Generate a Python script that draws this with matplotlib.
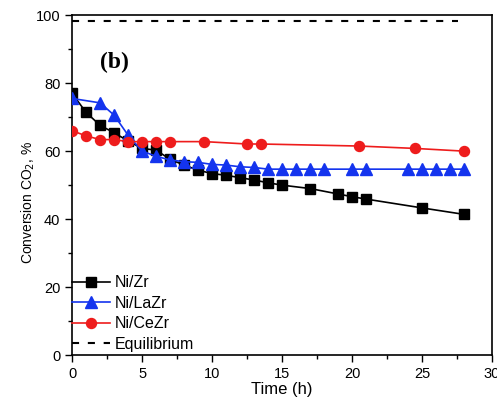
import matplotlib.pyplot as plt
from matplotlib.ticker import MultipleLocator

plt.rcParams['font.family'] = ['Liberation Sans', 'DejaVu Sans']

# ---- data ----
t_zr = [0, 1, 2, 3, 4, 5, 6, 7, 8, 9, 10, 11, 12, 13, 14, 15, 17, 19, 20, 21, 25, 28]
conv_zr = [77.0, 71.4, 67.6, 65.4, 63.0, 60.8, 60.3, 57.6, 55.9, 54.4, 53.4, 52.9,
           52.2, 51.5, 50.7, 50.0, 49.0, 47.4, 46.6, 45.9, 43.3, 41.4]

t_lazr = [0, 2, 3, 4, 5, 6, 7, 8, 9, 10, 11, 12, 13, 14, 15, 16, 17, 18, 20, 21,
          24, 25, 26, 27, 28]
conv_lazr = [75.5, 74.2, 70.6, 64.7, 60.0, 58.5, 57.4, 56.9, 56.7, 56.1, 55.9, 55.4,
             55.2, 54.7, 54.7, 54.7, 54.7, 54.7, 54.7, 54.7, 54.7, 54.7, 54.7, 54.7, 54.7]

t_cezr = [0, 1, 2, 3, 4, 5, 6, 7, 9.45, 12.5, 13.5, 20.5, 24.5, 28]
conv_cezr = [66.0, 64.5, 63.4, 63.4, 62.8, 62.8, 62.8, 62.8, 62.8, 62.1, 62.1,
             61.5, 60.8, 60.0]

t_eq = [0, 27.6]
conv_eq = [98.3, 98.3]

# ---- figure ----
fig = plt.figure(figsize=(4.97, 3.99), dpi=100)
ax = fig.add_axes([0.145, 0.110, 0.845, 0.852])

ax.plot(t_zr, conv_zr, color='black', marker='s', ms=7, lw=1.2, label='Ni/Zr', zorder=3)
ax.plot(t_lazr, conv_lazr, color='#1434ee', marker='^', ms=8.5, lw=1.2, label='Ni/LaZr', zorder=4)
ax.plot(t_cezr, conv_cezr, color='#ee1c1c', marker='o', ms=7.2, lw=1.2, label='Ni/CeZr', zorder=5)
ax.plot(t_eq, conv_eq, color='black', ls=(0, (3.4, 4.2)), lw=1.5, label='Equilibrium')

ax.set_xlim(0, 30)
ax.set_ylim(0, 100)
ax.xaxis.set_major_locator(MultipleLocator(5))
ax.xaxis.set_minor_locator(MultipleLocator(2.5))
ax.yaxis.set_major_locator(MultipleLocator(20))
ax.yaxis.set_minor_locator(MultipleLocator(10))
ax.tick_params(which='major', direction='out', length=5, width=1, labelsize=10.5)
ax.tick_params(which='minor', direction='out', length=3, width=1)
for s in ax.spines.values():
    s.set_linewidth(1.2)

ax.set_xlabel('Time (h)', fontsize=12, labelpad=1)
ax.set_ylabel('Conversion CO$_2$, %', fontsize=10)
ax.yaxis.set_label_coords(-0.083, 0.45)

ax.text(2.0, 84.4, '(b)', fontsize=17, fontweight='bold', family='Liberation Serif')

ax.legend(loc='lower left', bbox_to_anchor=(-0.008, 0.0), frameon=False, fontsize=11.5,
          handlelength=2.4, handletextpad=0.3, labelspacing=0.35, borderpad=0.2,
          borderaxespad=0.0)

fig.savefig('out.png', dpi=100)
